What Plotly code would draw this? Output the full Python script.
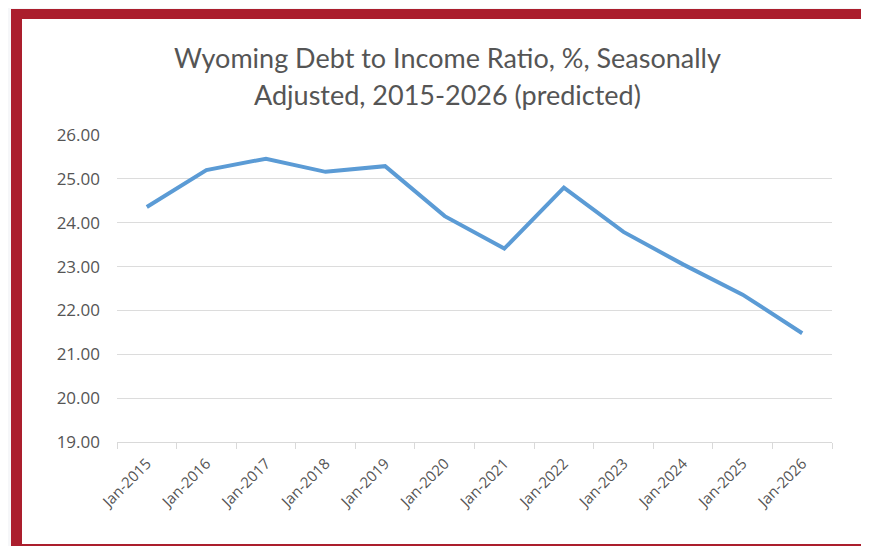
import plotly.graph_objects as go

categories = ["Jan-2015", "Jan-2016", "Jan-2017", "Jan-2018", "Jan-2019", "Jan-2020",
              "Jan-2021", "Jan-2022", "Jan-2023", "Jan-2024", "Jan-2025", "Jan-2026"]
ratio = [24.36, 25.20, 25.46, 25.16, 25.29, 24.15, 23.41, 24.80, 23.79, 23.05, 22.36, 21.48]
y_ticks = [19, 20, 21, 22, 23, 24, 25, 26]
y_tick_labels = [f"{v:.2f}" for v in y_ticks]
title_lines = ["Wyoming Debt to Income Ratio, %, Seasonally",
               "Adjusted, 2015-2026 (predicted)"]

OFF = 8  # default page body margin in the browser
SW, SH = 869, 546
W, H = SW - OFF, SH - OFF
# plot area in screen pixels
SL, SR, ST, SB = 117, 832, 135, 442
L, R, T, B = SL - OFF, SR - OFF, ST - OFF, SB - OFF


def px(x):
    """screen pixel x -> paper x"""
    return (x - OFF - L) / (R - L)


def py(y):
    """screen pixel y -> paper y"""
    return (B - (y - OFF)) / (B - T)


FONT = "Lato, 'Open Sans', sans-serif"
TICKFONT = "'Open Sans', Lato, sans-serif"
TXT = "#555555"

fig = go.Figure()
fig.add_trace(go.Scatter(
    x=categories, y=ratio, mode="lines",
    line=dict(color="#5b9bd5", width=4),
    hoverinfo="x+y", showlegend=False,
))

shapes = [
    dict(type="rect", xref="paper", yref="paper", layer="below",
         x0=px(11), x1=px(SW + 10), y0=py(SH + 10), y1=py(9),
         fillcolor="#ab1e2d", line=dict(width=0)),
    dict(type="rect", xref="paper", yref="paper", layer="below",
         x0=px(22), x1=px(SW + 10), y0=py(544), y1=py(19),
         fillcolor="#ffffff", line=dict(width=0)),
]

annotations = [
    dict(text=title_lines[0], xref="paper", yref="paper", x=px(447), y=py(57),
         xanchor="center", yanchor="middle", showarrow=False,
         font=dict(size=27, color=TXT, family=FONT)),
    dict(text=title_lines[1], xref="paper", yref="paper", x=px(447), y=py(95),
         xanchor="center", yanchor="middle", showarrow=False,
         font=dict(size=27, color=TXT, family=FONT)),
]

fig.update_layout(
    width=W, height=H,
    margin=dict(l=L, r=W - R, t=T, b=H - B, pad=0),
    paper_bgcolor="#f6f7f9",
    plot_bgcolor="#ffffff",
    shapes=shapes,
    annotations=annotations,
    font=dict(family=FONT, color=TXT),
    xaxis=dict(
        type="category", tickangle=-45,
        showgrid=False, showline=True, linecolor="#d9d9d9", linewidth=1,
        ticks="outside", ticklen=6, tickcolor="#d9d9d9", tickson="boundaries",
        tickfont=dict(size=15, color=TXT, family=TICKFONT),
        ticklabelstandoff=6,
        range=[-0.5, len(categories) - 0.5],
    ),
    yaxis=dict(
        range=[19, 26], tickvals=y_ticks, ticktext=y_tick_labels,
        showgrid=True, gridcolor="#dcdcdc", gridwidth=1,
        zeroline=False, showline=False, ticks="",
        tickfont=dict(size=17, color=TXT, family=TICKFONT),
        ticklabelstandoff=16,
    ),
)

fig.write_html("out.html")
